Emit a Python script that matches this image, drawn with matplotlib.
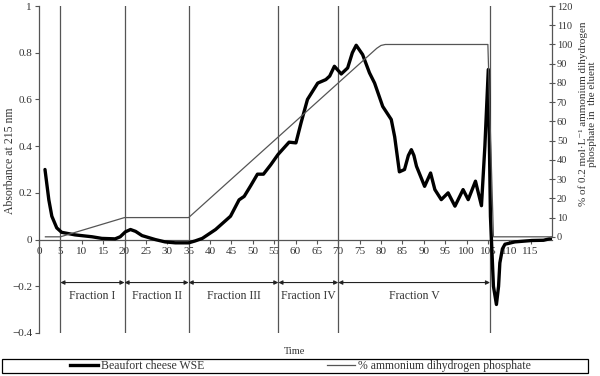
import matplotlib
matplotlib.use("Agg")
import matplotlib.pyplot as plt
from matplotlib.lines import Line2D
from matplotlib.patches import Rectangle

plt.rcParams["font.family"] = ["Liberation Serif", "DejaVu Serif"]

# ---------- data ----------
wse_time = [1.4, 2.3, 3.0, 4.15, 5.3, 8.45, 12.4, 14.7, 17.8, 19.0, 20.2, 21.4,
            22.6, 24.1, 27.2, 29.5, 31.9, 35.0, 36.5, 38.2, 41.3, 44.8, 46.8,
            48.0, 49.5, 51.1, 52.5, 54.2, 55.9, 58.5, 60.1, 61.3, 62.8, 65.2,
            67.1, 68.0, 69.1, 70.7, 72.2, 73.3, 74.2, 75.7, 77.3, 78.5, 80.4,
            82.4, 83.2, 84.3, 85.5, 86.4, 87.1, 87.7, 88.3, 90.2, 91.6, 92.6,
            94.1, 95.7, 97.3, 99.2, 100.4, 102.1, 103.5, 104.3, 105.1, 105.6,
            106.3, 107.0, 107.5, 107.8, 108.4, 109.0, 111.3, 115.3, 118.0, 120.3]
wse_abs = [0.30, 0.17, 0.10, 0.05, 0.031, 0.02, 0.012, 0.005, 0.003, 0.012,
           0.033, 0.043, 0.035, 0.017, 0.0, -0.010, -0.014, -0.014, -0.006,
           0.005, 0.043, 0.10, 0.17, 0.185, 0.23, 0.28, 0.28, 0.32, 0.364,
           0.417, 0.414, 0.50, 0.60, 0.67, 0.685, 0.70, 0.742, 0.709, 0.735,
           0.80, 0.832, 0.792, 0.714, 0.67, 0.57, 0.514, 0.44, 0.29, 0.30,
           0.36, 0.385, 0.36, 0.314, 0.228, 0.285, 0.214, 0.171, 0.20, 0.143,
           0.214, 0.171, 0.25, 0.145, 0.40, 0.728, 0.10, -0.20, -0.278, -0.20,
           -0.10, -0.04, -0.02, -0.01, -0.004, -0.003, 0.007]

buffer_time = [1.5, 5, 20, 35, 79, 80, 81, 105, 106.3, 120]
buffer_pct = [0, 0, 10, 10, 98, 99.5, 100, 100, 0, 0]

fraction_bounds = [5, 20, 35, 56, 70, 105.5]
fraction_names = ["Fraction I", "Fraction II", "Fraction III", "Fraction IV", "Fraction V"]

TXT = "#333333"
GRID = "#555555"

fig = plt.figure(figsize=(6, 3.76), dpi=100)
ax = fig.add_axes([0.065, 0.1144, 0.855, 0.8696])
ax2 = ax.twinx()

# ---------- left axis ----------
ax.set_xlim(0, 120)
ax.set_ylim(-0.4, 1)
ax.plot(wse_time, wse_abs, color="black", lw=2.4, solid_joinstyle="round",
        solid_capstyle="round", zorder=5)
for xb in fraction_bounds:
    ax.axvline(xb, color=GRID, lw=0.9, zorder=2)

# fraction arrows + labels
for i, name in enumerate(fraction_names):
    x0, x1 = fraction_bounds[i], fraction_bounds[i + 1]
    ax.annotate("", xy=(x0, -0.184), xytext=(x1, -0.184),
                arrowprops=dict(arrowstyle="<|-|>", color="#222222", lw=0.8,
                                mutation_scale=6, shrinkA=0, shrinkB=0))
    ax.text((x0 + x1) / 2, -0.24, name, ha="center", va="center",
            fontsize=8.5, color=TXT)

ax.set_yticks([-0.4, -0.2, 0, 0.2, 0.4, 0.6, 0.8, 1])
ax.set_yticklabels(["\u22120.4", "\u22120.2", "0", "0.2", "0.4", "0.6", "0.8", "1"])
ax.set_xticks(range(0, 120, 5))
ax.spines["top"].set_visible(False)
ax.spines["right"].set_visible(False)
ax.spines["bottom"].set_position(("data", 0))
for s in ("left", "bottom"):
    ax.spines[s].set_color(GRID)
    ax.spines[s].set_linewidth(0.9)
ax.tick_params(axis="both", direction="out", length=3, width=0.8, color=GRID,
               labelsize=8, labelcolor=TXT, pad=2)

# ---------- right axis ----------
ax2.set_ylim(-50, 120)
ax2.plot(buffer_time, buffer_pct, color="#555555", lw=0.9, zorder=3)
ax2.set_yticks(range(0, 121, 10))
for s in ("top", "left", "bottom"):
    ax2.spines[s].set_visible(False)
ax2.spines["right"].set_bounds(0, 120)
ax2.spines["right"].set_color(GRID)
ax2.spines["right"].set_linewidth(0.9)
ax2.tick_params(axis="y", direction="inout", length=5, width=0.8, color=GRID,
                labelsize=7.5, labelcolor=TXT, pad=1)

# ---------- labels ----------
fig.text(0.017, 0.572, "Absorbance at 215 nm", rotation=90, ha="center",
         va="center", fontsize=8.5, color=TXT)
fig.text(0.979, 0.697,
         "% of 0.2 mol\u00b7L\u207b\u00b9 ammonium dihydrogen\nphosphate in  the eluent",
         rotation=90, ha="center", va="center", fontsize=8, color=TXT,
         multialignment="center", linespacing=1.0)
fig.text(295 / 600, 1 - 352 / 376, "Time", ha="center", va="center",
         fontsize=7.5, color=TXT)

# ---------- legend ----------
fig.patches.append(Rectangle((2 / 600, 3 / 376), 586 / 600, 14 / 376,
                             transform=fig.transFigure, fill=False,
                             edgecolor="black", lw=0.9))
handles = [Line2D([], [], color="black", lw=2.4),
           Line2D([], [], color="#555555", lw=0.9)]
fig.legend(handles, ["Beaufort cheese WSE", "% ammonium dihydrogen phosphate"],
           loc="center left", bbox_to_anchor=(70 / 600, 1 - 366 / 376),
           ncol=2, frameon=False, fontsize=8.5, handlelength=2.4,
           handletextpad=0.2, columnspacing=10.4, borderpad=0,
           borderaxespad=0, labelcolor=TXT)

fig.savefig("out.png", dpi=100)
